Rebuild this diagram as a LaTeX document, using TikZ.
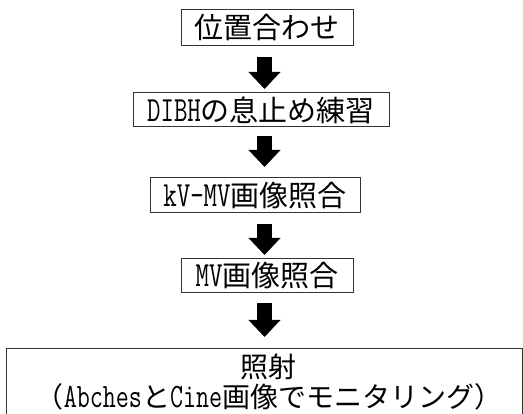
\documentclass[tikz,border=0pt]{standalone}
\usepackage{fontspec}
\setmainfont{Noto Sans CJK JP}
\newfontfamily\latf[Scale=1.22,FakeStretch=0.74]{Latin Modern Mono}
\usetikzlibrary{arrows.meta}
\tikzset{
  stepbox/.style={draw=black!80, line width=1pt, inner sep=0pt, font=\fontsize{29}{32}\selectfont, minimum height=#1},
  blockarrow/.style={line width=15pt, -{Triangle[width=31pt,length=17pt]}}
}
\begin{document}
\begin{tikzpicture}[x=1pt,y=-1pt]
\useasboundingbox (0,0) rectangle (523,414);
\node[stepbox=36pt, minimum width=172pt] (b1) at (267,28) {位置合わせ};
\node[stepbox=34pt, minimum width=256pt] (b2) at (261,110) {{\latf DIBH}の息止め練習};
\node[stepbox=35pt, minimum width=210pt] (b3) at (255,195.5) {{\latf kV-MV}画像照合};
\node[stepbox=34pt, minimum width=172pt] (b4) at (267,276) {{\latf MV}画像照合};
\begin{scope}
\clip (0,0) rectangle (523,414);
\node[draw=black!80, line width=1pt, minimum width=516pt, minimum height=90pt, anchor=north west, inner sep=0pt] (b5) at (6,348) {};
\end{scope}
\node[font=\fontsize{28}{30}\selectfont, align=center, inner sep=0pt] (t5) at (269,382) {照射\\（{\latf Abches}と{\latf Cine}画像でモニタリング）};
\coordinate (a1s) at (264.5,57);  \coordinate (a1e) at (264.5,89);
\coordinate (a2s) at (264.5,136); \coordinate (a2e) at (264.5,167);
\coordinate (a3s) at (264.5,224); \coordinate (a3e) at (264.5,255);
\coordinate (a4s) at (264.5,303); \coordinate (a4e) at (264.5,337);
\draw[blockarrow] (a1s) -- (a1e);
\draw[blockarrow] (a2s) -- (a2e);
\draw[blockarrow] (a3s) -- (a3e);
\draw[blockarrow] (a4s) -- (a4e);
\end{tikzpicture}
\end{document}
